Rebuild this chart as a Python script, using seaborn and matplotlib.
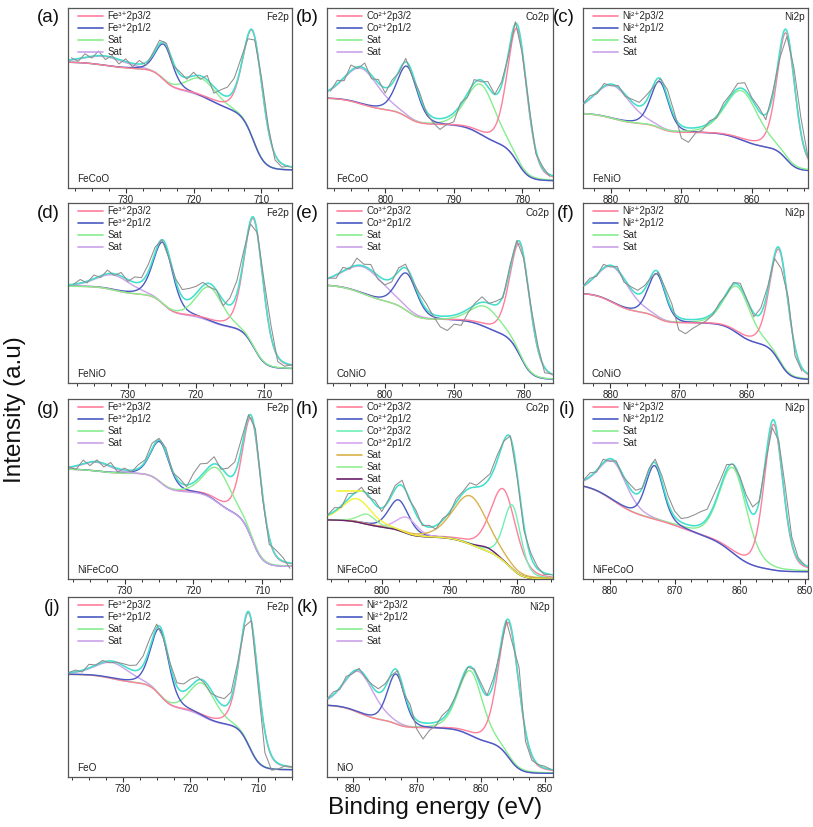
import numpy as np
import matplotlib
matplotlib.use('Agg')
import matplotlib.pyplot as plt
import seaborn as sns
from matplotlib.lines import Line2D
from matplotlib.ticker import MultipleLocator

sns.set_theme(style='ticks')
plt.rcParams['font.family'] = ['Liberation Sans', 'DejaVu Sans']

# ---------------- data (normalised intensity, 0 = frame bottom, 1 = frame top) -------------
# (a) FeCoO Fe2p
lim_a = [738.5, 705.5]
base_a = 0.10
step_c_a = [711.2, 717.5, 724.5, 733.0]
step_h_a = [0.32, 0.13, 0.11, 0.04]
step_w_a = [0.85, 1.8, 0.8, 1.8]
peak_c_a = [711.2, 724.3, 718.8, 733.0]
peak_h_a = [0.60, 0.20, 0.10, 0.05]
peak_w_a = [3.4, 3.0, 5.0, 7.0]
raw_start_a = 738
resid_a = [0.01, -0.015, 0.02, -0.01, 0.025, -0.02, 0.01, -0.025, 0.015, -0.02, 0.02,
           -0.015, 0.01, 0.02, 0.01, -0.02, 0.015, -0.01, 0.02, -0.02, 0.025, -0.035,
           0.02, 0.05, 0.06, 0.04, -0.02, -0.02, 0.03, 0.02, -0.03, -0.02, 0.0]

# (b) FeCoO Co2p
lim_b = [808.5, 775.5]
base_b = 0.04
step_c_b = [780.7, 786.0, 796.8, 803.5]
step_h_b = [0.20, 0.11, 0.08, 0.07]
step_w_b = [0.85, 1.3, 0.9, 1.5]
peak_c_b = [780.7, 796.8, 786.0, 803.5]
peak_h_b = [0.74, 0.285, 0.28, 0.20]
peak_w_b = [3.4, 3.5, 5.0, 6.0]
raw_start_b = 808
resid_b = [-0.01, 0.02, -0.02, 0.03, -0.01, 0.03, -0.02, 0.02, -0.03, 0.02, -0.01,
           0.02, -0.02, 0.02, -0.01, -0.03, -0.06, -0.04, -0.05, 0.01, -0.02, 0.02,
           -0.01, 0.03, 0.0, 0.02, -0.02, 0.01, -0.02, 0.01, -0.02, 0.01, -0.01]

# (c) FeNiO Ni2p
lim_c = [884.0, 852.0]
base_c = 0.095
step_c_c = [855.1, 861.4, 873.1, 879.8]
step_h_c = [0.128, 0.084, 0.047, 0.062]
step_w_c = [0.75, 1.4, 0.75, 1.5]
peak_c_c = [855.1, 873.1, 861.4, 879.8]
peak_h_c = [0.70, 0.26, 0.275, 0.185]
peak_w_c = [3.0, 3.0, 5.5, 6.0]
raw_start_c = 884
resid_c = [0.0, 0.015, -0.01, 0.015, -0.01, 0.01, -0.01, 0.015, 0.02, 0.03, -0.01,
           0.0, 0.04, 0.02, -0.07, -0.08, -0.03, -0.02, 0.01, -0.01, 0.02, 0.01,
           0.03, 0.04, 0.01, 0.02, -0.03, 0.02, -0.04, -0.03, 0.06, 0.08, 0.0]

# (d) FeNiO Fe2p
lim_d = [738.8, 705.9]
base_d = 0.08
step_c_d = [711.5, 718.0, 724.8, 732.0]
step_h_d = [0.228, 0.069, 0.114, 0.046]
step_w_d = [0.85, 1.2, 0.85, 1.3]
peak_c_d = [711.5, 724.8, 718.0, 732.0]
peak_h_d = [0.715, 0.345, 0.19, 0.085]
peak_w_d = [3.3, 3.4, 4.5, 6.0]
raw_start_d = 738
resid_d = [0.0, 0.02, -0.01, 0.02, -0.01, 0.02, -0.01, 0.02, -0.01, 0.03, 0.02,
           0.04, 0.03, 0.0, -0.02, 0.01, 0.04, 0.06, 0.04, 0.02, -0.02, 0.0,
           -0.03, 0.04, 0.07, 0.04, -0.02, 0.0, 0.05, 0.06, -0.03, -0.02, 0.0]

# (e) CoNiO Co2p
lim_e = [808.3, 775.8]
base_e = 0.02
step_c_e = [780.5, 785.5, 796.8, 803.0]
step_h_e = [0.25, 0.08, 0.09, 0.107]
step_w_e = [0.85, 1.3, 0.9, 1.8]
peak_c_e = [780.5, 796.8, 785.5, 803.0]
peak_h_e = [0.62, 0.21, 0.115, 0.15]
peak_w_e = [3.4, 3.5, 5.0, 7.0]
raw_start_e = 808
resid_e = [0.0, -0.02, 0.02, -0.01, 0.04, 0.01, 0.03, -0.02, -0.03, -0.02, 0.02,
           0.02, -0.01, 0.02, 0.03, -0.01, -0.06, -0.08, -0.05, -0.07, -0.02, 0.01,
           0.03, 0.0, 0.02, -0.01, 0.02, 0.01, -0.01, 0.01, 0.02, -0.03, 0.0]

# (f) CoNiO Ni2p
lim_f = [884.0, 851.1]
base_f = 0.02
step_c_f = [855.3, 861.4, 873.2, 879.6]
step_h_f = [0.197, 0.115, 0.057, 0.111]
step_w_f = [0.8, 1.1, 0.75, 1.4]
peak_c_f = [855.3, 873.2, 861.4, 879.6]
peak_h_f = [0.62, 0.245, 0.26, 0.20]
peak_w_f = [3.2, 3.0, 4.5, 5.5]
raw_start_f = 884
resid_f = [0.0, 0.015, -0.01, 0.02, -0.01, 0.015, -0.02, 0.01, 0.02, 0.02, -0.01,
           0.0, 0.02, 0.03, -0.07, -0.08, -0.05, -0.03, -0.02, -0.01, 0.01, -0.01,
           0.01, 0.02, 0.0, -0.02, 0.03, 0.02, -0.02, -0.08, 0.03, -0.05, -0.02]

# (g) NiFeCoO Fe2p
lim_g = [738.2, 705.7]
base_g = 0.07
step_c_g = [711.5, 716.5, 724.8, 734.0]
step_h_g = [0.294, 0.121, 0.101, 0.024]
step_w_g = [0.8, 1.1, 0.8, 1.3]
peak_c_g = [711.5, 724.8, 716.5, 734.0]
peak_h_g = [0.667, 0.225, 0.19, 0.05]
peak_w_g = [3.2, 3.2, 4.5, 5.0]
raw_start_g = 738
resid_g = [0.0, -0.02, 0.02, -0.02, 0.01, -0.02, 0.02, -0.02, 0.01, -0.01, 0.02,
           0.01, 0.03, 0.01, 0.02, -0.01, 0.02, -0.01, 0.05, 0.07, 0.03, 0.04,
           -0.01, 0.04, 0.06, 0.05, 0.01, 0.03, -0.02, -0.04, 0.03, 0.02, -0.03]

# (h) NiFeCoO Co2p
lim_h = [808.1, 774.7]
base_h = 0.0
step_c_h = [780.5, 782.0, 786.9, 796.8, 802.5]
step_h_h = [0.054, 0.097, 0.083, 0.05, 0.045]
step_w_h = [0.75, 1.1, 1.5, 0.9, 1.3]
peak_c_h = [782.0, 797.5, 780.7, 796.3, 786.9, 802.2, 784.5, 803.7]
peak_h_h = [0.40, 0.17, 0.355, 0.09, 0.27, 0.056, 0.02, 0.13]
peak_w_h = [4.5, 3.5, 3.0, 3.5, 6.0, 3.0, 3.0, 5.0]
raw_start_h = 808
resid_h = [0.0, 0.02, -0.01, 0.03, 0.0, 0.02, -0.01, 0.02, -0.02, 0.01, 0.02,
           0.03, -0.01, 0.02, -0.01, 0.01, -0.02, 0.01, -0.01, 0.02, 0.01, 0.03,
           0.01, 0.03, 0.02, 0.03, 0.0, 0.01, -0.02, -0.03, 0.02, 0.01, -0.01, 0.0]

# (i) NiFeCoO Ni2p
lim_i = [884.1, 849.5]
base_i = 0.04
step_c_i = [855.0, 861.0, 869.0, 879.5]
step_h_i = [0.012, 0.17, 0.12, 0.19]
step_w_i = [0.8, 1.6, 2.5, 2.0]
peak_c_i = [854.8, 873.1, 861.0, 879.5]
peak_h_i = [0.81, 0.30, 0.475, 0.22]
peak_w_i = [3.4, 3.2, 5.0, 5.0]
raw_start_i = 884
resid_i = [0.0, 0.02, -0.01, 0.02, -0.015, 0.01, -0.01, 0.02, 0.02, 0.0, 0.01,
           0.02, 0.03, 0.04, 0.03, 0.02, 0.04, 0.06, 0.07, 0.05, 0.06, 0.04,
           0.03, 0.0, 0.01, 0.03, 0.04, 0.0, -0.02, -0.04, 0.02, 0.08, 0.03, 0.01, 0.0]

# (j) FeO Fe2p
lim_j = [738.1, 705.0]
base_j = 0.04
step_c_j = [711.3, 718.2, 724.5, 731.5]
step_h_j = [0.25, 0.09, 0.14, 0.05]
step_w_j = [0.8, 1.2, 0.85, 1.5]
peak_c_j = [711.3, 724.5, 718.2, 731.5]
peak_h_j = [0.74, 0.37, 0.185, 0.09]
peak_w_j = [3.2, 3.2, 4.5, 6.0]
raw_start_j = 738
resid_j = [0.0, 0.01, -0.01, 0.02, 0.0, 0.01, -0.01, 0.0, 0.01, 0.02, 0.03,
           0.05, 0.05, 0.02, -0.02, 0.01, 0.02, 0.04, 0.04, 0.02, -0.01, -0.02,
           0.02, 0.04, 0.03, 0.02, -0.03, 0.0, -0.05, -0.12, -0.08, -0.03, 0.0, 0.0]

# (k) NiO Ni2p
lim_k = [884.0, 848.7]
base_k = 0.02
step_c_k = [855.6, 861.6, 873.2, 879.0]
step_h_k = [0.17, 0.08, 0.04, 0.09]
step_w_k = [0.9, 1.2, 0.8, 1.5]
peak_c_k = [855.6, 873.2, 861.6, 879.0]
peak_h_k = [0.75, 0.28, 0.36, 0.23]
peak_w_k = [3.8, 3.2, 4.5, 5.5]
raw_start_k = 884
resid_k = [0.0, 0.015, -0.01, 0.015, -0.01, 0.01, -0.01, 0.01, 0.02, 0.02, -0.01,
           0.0, -0.02, 0.03, -0.05, -0.09, -0.04, -0.02, 0.02, 0.01, 0.0, -0.01,
           0.0, 0.01, 0.02, 0.0, 0.03, -0.02, 0.0, -0.05, 0.1, -0.06, -0.03, 0.0, 0.01, 0.0]

FE_LAB = ['Fe³⁺2p3/2', 'Fe³⁺2p1/2', 'Sat', 'Sat']
CO2_LAB = ['Co²⁺2p3/2', 'Co²⁺2p1/2', 'Sat', 'Sat']
CO3_LAB = ['Co³⁺2p3/2', 'Co³⁺2p1/2', 'Sat', 'Sat']
NI_LAB = ['Ni²⁺2p3/2', 'Ni²⁺2p1/2', 'Sat', 'Sat']
H_LAB = ['Co²⁺2p3/2', 'Co²⁺2p1/2', 'Co³⁺2p3/2', 'Co³⁺2p1/2', 'Sat', 'Sat', 'Sat', 'Sat']

PINK, BLUE, GREEN, PURPLE = '#FF7E9C', '#4A5AC2', '#86EE8E', '#C9A2EA'
ENV, RAW = '#42E0CC', '#8E8E8E'
COL4 = [PINK, BLUE, GREEN, PURPLE]
COL8 = [PINK, BLUE, '#6EEFB6', '#D6A6F2', '#D9B24C', '#94F094', '#6B1E6B', '#F2F23A']


def pv(E, c, h, w, eta=0.3):
    x = (E - c) / w
    return h * ((1 - eta) * np.exp(-4 * np.log(2) * x ** 2) + eta / (1 + 4 * x ** 2))


def background(E, base, sc, sh, sw):
    out = np.full_like(E, base, dtype=float)
    for c, h, w in zip(sc, sh, sw):
        out += h / (1 + np.exp(-(E - c) / w))
    return out


def curves(E, base, sc, sh, sw, pc, ph, pw):
    b = background(E, base, sc, sh, sw)
    comps = [pv(E, c, h, w) for c, h, w in zip(pc, ph, pw)]
    return b, comps, b + np.sum(comps, axis=0)


PANELS = [
    ('a', 0, 0, lim_a, base_a, step_c_a, step_h_a, step_w_a, peak_c_a, peak_h_a, peak_w_a, raw_start_a, resid_a, FE_LAB, COL4, [3, 2, 1, 0], 'Fe2p', 'FeCoO'),
    ('b', 0, 1, lim_b, base_b, step_c_b, step_h_b, step_w_b, peak_c_b, peak_h_b, peak_w_b, raw_start_b, resid_b, CO2_LAB, COL4, [3, 2, 1, 0], 'Co2p', 'FeCoO'),
    ('c', 0, 2, lim_c, base_c, step_c_c, step_h_c, step_w_c, peak_c_c, peak_h_c, peak_w_c, raw_start_c, resid_c, NI_LAB, COL4, [3, 1, 0, 2], 'Ni2p', 'FeNiO'),
    ('d', 1, 0, lim_d, base_d, step_c_d, step_h_d, step_w_d, peak_c_d, peak_h_d, peak_w_d, raw_start_d, resid_d, FE_LAB, COL4, [3, 1, 0, 2], 'Fe2p', 'FeNiO'),
    ('e', 1, 1, lim_e, base_e, step_c_e, step_h_e, step_w_e, peak_c_e, peak_h_e, peak_w_e, raw_start_e, resid_e, CO3_LAB, COL4, [3, 1, 0, 2], 'Co2p', 'CoNiO'),
    ('f', 1, 2, lim_f, base_f, step_c_f, step_h_f, step_w_f, peak_c_f, peak_h_f, peak_w_f, raw_start_f, resid_f, NI_LAB, COL4, [3, 2, 1, 0], 'Ni2p', 'CoNiO'),
    ('g', 2, 0, lim_g, base_g, step_c_g, step_h_g, step_w_g, peak_c_g, peak_h_g, peak_w_g, raw_start_g, resid_g, FE_LAB, COL4, [0, 1, 2, 3], 'Fe2p', 'NiFeCoO'),
    ('h', 2, 1, lim_h, base_h, step_c_h, step_h_h, step_w_h, peak_c_h, peak_h_h, peak_w_h, raw_start_h, resid_h, H_LAB, COL8, [0, 1, 2, 3, 4, 5, 6, 7], 'Co2p', 'NiFeCoO'),
    ('i', 2, 2, lim_i, base_i, step_c_i, step_h_i, step_w_i, peak_c_i, peak_h_i, peak_w_i, raw_start_i, resid_i, NI_LAB, COL4, [3, 2, 0, 1], 'Ni2p', 'NiFeCoO'),
    ('j', 3, 0, lim_j, base_j, step_c_j, step_h_j, step_w_j, peak_c_j, peak_h_j, peak_w_j, raw_start_j, resid_j, FE_LAB, COL4, [3, 2, 0, 1], 'Fe2p', 'FeO'),
    ('k', 3, 1, lim_k, base_k, step_c_k, step_h_k, step_w_k, peak_c_k, peak_h_k, peak_w_k, raw_start_k, resid_k, NI_LAB, COL4, [3, 2, 0, 1], 'Ni2p', 'NiO'),
]

W, H = 813, 827
COL_LEFT = [68, 327, 583]
COL_WIDTH = [224, 226, 225]
ROW_TOP = [8, 203, 399, 597]
AX_H = 180

fig = plt.figure(figsize=(W / 100, H / 100), dpi=100)

for (letter, r, c, lim, base, sc, sh, sw, pc, ph, pw, rs, resid, labels, cols,
     order, elem, sample) in PANELS:
    rect = [COL_LEFT[c] / W, 1 - (ROW_TOP[r] + AX_H) / H, COL_WIDTH[c] / W, AX_H / H]
    ax = fig.add_axes(rect)
    E = np.linspace(lim[0], lim[1], 800)
    b, comps, env = curves(E, base, sc, sh, sw, pc, ph, pw)
    for idx in order:
        sns.lineplot(x=E, y=b + comps[idx], ax=ax, color=cols[idx], lw=1.0,
                     sort=False, estimator=None, legend=False)
    sns.lineplot(x=E, y=env, ax=ax, color=ENV, lw=1.15, sort=False,
                 estimator=None, legend=False)
    Er = rs - np.arange(len(resid), dtype=float)
    _, _, env_r = curves(Er, base, sc, sh, sw, pc, ph, pw)
    sns.lineplot(x=Er, y=env_r + np.array(resid), ax=ax, color=RAW, lw=0.75,
                 sort=False, estimator=None, legend=False, zorder=5)

    ax.set_xlim(lim[0], lim[1])
    ax.set_ylim(0, 1)
    ax.set_xlabel('')
    ax.set_ylabel('')
    ax.set_yticks([])
    ax.xaxis.set_major_locator(MultipleLocator(10))
    ax.xaxis.set_minor_locator(MultipleLocator(2.5))
    ax.tick_params(axis='x', which='major', direction='out', length=3.5, width=0.8,
                   labelsize=7, pad=1.5, colors='#333333', labelcolor='#222222')
    ax.tick_params(axis='x', which='minor', direction='out', length=2, width=0.7,
                   colors='#333333')
    for s in ax.spines.values():
        s.set_visible(True)
        s.set_color('#555555')
        s.set_linewidth(0.9)

    handles = [Line2D([0], [0], color=cols[i], lw=1.2) for i in range(len(labels))]
    ax.legend(handles, labels, loc='upper left', bbox_to_anchor=(0.03, 1.0),
              frameon=False, fontsize=7, handlelength=2.6, handletextpad=0.4,
              labelspacing=0.2, borderaxespad=0.1, borderpad=0.25)
    ax.text(0.985, 0.975, elem, transform=ax.transAxes, ha='right', va='top',
            fontsize=7.2, color='#222222')
    ax.text(0.04, 0.05, sample, transform=ax.transAxes, ha='left', va='center',
            fontsize=7.2, color='#222222')
    fig.text((COL_LEFT[c] - 8) / W, 1 - (ROW_TOP[r] + 10) / H, f'({letter})',
             ha='right', va='center', fontsize=13.5, color='#111111')

fig.text(0.018, 0.505, 'Intensity (a.u)', rotation=90, ha='center', va='center',
         fontsize=17.5, color='#111111')
fig.text(0.535, 0.023, 'Binding energy (eV)', ha='center', va='center',
         fontsize=17.5, color='#111111')

fig.savefig('out.png', dpi=100)
